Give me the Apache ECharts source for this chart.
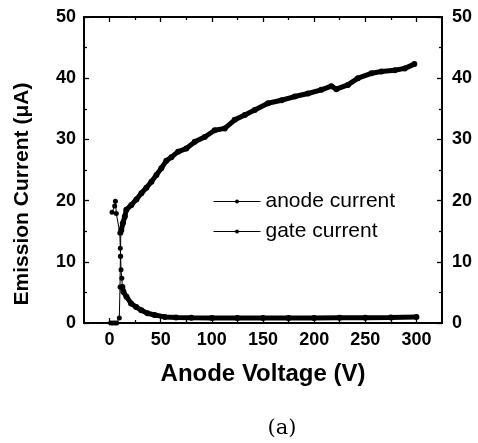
<!DOCTYPE html>
<html>
<head>
<meta charset="utf-8">
<title>Emission current vs anode voltage</title>
<script src="https://cdn.jsdelivr.net/npm/echarts@6.0.0/dist/echarts.min.js"></script>
<style>
  html, body { margin: 0; padding: 0; background: #fff; }
  #chart { width: 478px; height: 443px; }
</style>
</head>
<body>
<div id="chart"></div>
<script>
// values
const anodeVolt = [1, 3, 5, 7, 9.5, 10.2, 10.6, 11, 11.5, 13, 14.9, 16.4, 21.3, 26.2, 31.1, 36, 40.9, 45.8, 50.6, 55.5, 60.4, 67, 75, 83.3, 93, 102.8, 112.6, 122.4, 132.2, 141.9, 154.9, 168, 181, 194, 207, 216.8, 221.7, 233, 242.8, 256, 265.8, 278.8, 288.6, 298]
const anodeCurr = [0, 0, 0, 0, 0.8, 5.9, 10.9, 14.7, 15.2, 16.3, 17.4, 18.5, 19.3, 20.2, 21.2, 22.1, 23.1, 24.2, 25.3, 26.5, 27.1, 28, 28.5, 29.6, 30.4, 31.5, 31.8, 33.2, 34, 34.8, 35.9, 36.4, 37, 37.5, 38.1, 38.7, 38.2, 38.9, 40, 40.8, 41.1, 41.3, 41.6, 42.3]

const gateVolt = [2.4, 5, 5.7, 6.6, 10, 10.5, 10.8, 11.2, 12, 12.5, 13.5, 16.5, 21, 26, 31, 37, 44, 54, 65, 80, 100, 125, 150, 175, 200, 225, 250, 275, 300]
const gateCurr = [18.1, 19.1, 19.9, 17.9, 14.7, 12.2, 10.9, 8.7, 7.3, 5.9, 5.1, 4.3, 3.2, 2.6, 2.1, 1.6, 1.3, 1.0, 0.9, 0.85, 0.8, 0.8, 0.8, 0.8, 0.8, 0.85, 0.85, 0.9, 1.0]

const xMajorTicks = [0, 50, 100, 150, 200, 250, 300]
const xMinorTicks = [25, 75, 125, 175, 225, 275]

// the first few points are drawn as a thin dotted line, the rest as the dense thick trace
const anodeSplit = 8
const gateSplit = 9

const pairs = (xs, ys) => xs.map((x, i) => [x, ys[i]])
const anodeData = pairs(anodeVolt, anodeCurr)
const gateData = pairs(gateVolt, gateCurr)

const FONT = 'Liberation Sans, Arial, sans-serif'
const INK = '#000'

function xAx(pos, ticks, len, labels) {
  return {
    type: 'value', position: pos, min: -25, max: 325,
    axisLine: { show: true, onZero: false, lineStyle: { color: INK, width: 2 } },
    axisTick: { show: true, inside: true, length: len, customValues: ticks, lineStyle: { color: INK, width: 1.3 } },
    axisLabel: labels ? { show: true, customValues: ticks, margin: 8, color: INK, fontSize: 18, fontWeight: 'bold', fontFamily: FONT } : { show: false },
    splitLine: { show: false }
  }
}

function yAx(pos, margin) {
  return {
    type: 'value', position: pos, min: 0, max: 50, interval: 10,
    axisLine: { show: true, onZero: false, lineStyle: { color: INK, width: 2 } },
    axisTick: { show: true, inside: true, length: 5, lineStyle: { color: INK, width: 1.3 } },
    minorTick: { show: true, splitNumber: 2, length: 3, lineStyle: { color: INK, width: 1.3 } },
    axisLabel: { margin: margin, color: INK, fontSize: 18, fontWeight: 'bold', fontFamily: FONT },
    splitLine: { show: false }
  }
}

const chart = echarts.init(document.getElementById('chart'), null, { renderer: 'canvas' })

const bottomAxis = xAx('bottom', xMajorTicks, 5, true)
bottomAxis.name = 'Anode Voltage (V)'
bottomAxis.nameLocation = 'middle'
bottomAxis.nameGap = 39
bottomAxis.nameTextStyle = { color: INK, fontSize: 24, fontWeight: 'bold', fontFamily: FONT }

const leftAxis = yAx('left', 8)
leftAxis.name = 'Emission Current (μA)'
leftAxis.nameLocation = 'middle'
leftAxis.nameGap = 51
leftAxis.nameTextStyle = { color: INK, fontSize: 21, fontWeight: 'bold', fontFamily: FONT, padding: [0, 48, 0, 0] }

const rightAxis = yAx('right', 10)

function seriesOf(name, data, thin) {
  return {
    name: name, type: 'line', xAxisIndex: 0, yAxisIndex: 0,
    data: data,
    symbol: 'circle', symbolSize: thin ? 5 : 6, showSymbol: true,
    itemStyle: { color: INK },
    lineStyle: { color: INK, width: thin ? 1 : 5 },
    z: thin ? 3 : 2
  }
}

chart.setOption({
  animation: false,
  backgroundColor: '#fff',
  grid: { left: 84, right: 36, top: 17, bottom: 120 },
  xAxis: [
    bottomAxis,
    xAx('bottom', xMinorTicks, 3, false),
    xAx('top', xMajorTicks, 5, false),
    xAx('top', xMinorTicks, 3, false)
  ],
  yAxis: [leftAxis, rightAxis],
  legend: {
    orient: 'vertical', left: 208, top: 186,
    itemWidth: 47, itemHeight: 5, itemGap: 9,
    data: ['anode current', 'gate current'],
    lineStyle: { width: 1, color: INK },
    textStyle: { color: INK, fontSize: 21, fontFamily: FONT }
  },
  graphic: [{
    type: 'text', x: 282, y: 429,
    style: { text: '(a)', fill: INK, font: '21px "DejaVu Serif", serif', align: 'center', verticalAlign: 'middle' }
  }],
  series: [
    seriesOf('anode current', anodeData.slice(0, anodeSplit + 1), true),
    seriesOf('anode current', anodeData.slice(anodeSplit), false),
    seriesOf('gate current', gateData.slice(0, gateSplit + 1), true),
    seriesOf('gate current', gateData.slice(gateSplit), false)
  ]
})
</script>
</body>
</html>
